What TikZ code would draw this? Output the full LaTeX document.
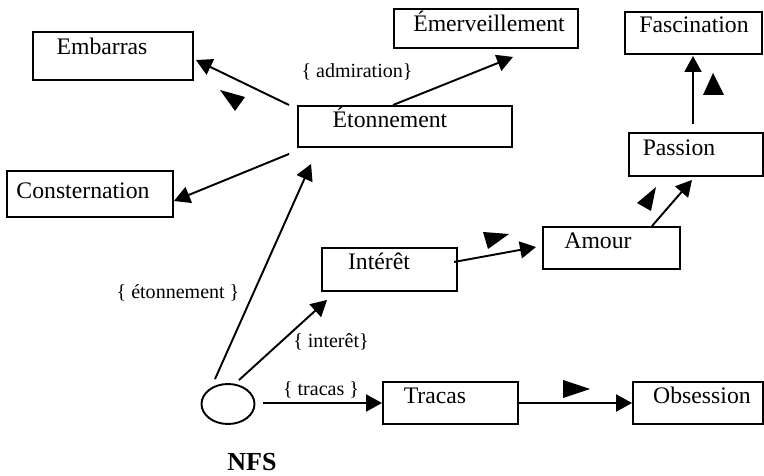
\documentclass[tikz,border=0pt]{standalone}
\usepackage{fontspec}
\setmainfont{Liberation Serif}
\usetikzlibrary{arrows.meta,calc,shapes}

\begin{document}
\begin{tikzpicture}[
  x=0.02cm, y=-0.02cm,
  emobox/.style={draw, line width=1.1pt, inner sep=0pt},
  boxtext/.style={anchor=base, inner sep=0pt, font=\fontsize{13.5}{16}\selectfont},
  lbl/.style={anchor=base, inner sep=0pt, font=\fontsize{11.4}{14}\selectfont},
  edge/.style={line width=1.1pt, -{Triangle[length=0.32cm,width=0.34cm]}},
  flag/.style={fill=black}
]
\useasboundingbox (0,0) rectangle (764,476);

% Boxes of the emotions
\node[emobox, minimum width=3.2cm, minimum height=0.96cm] (emb) at (113,56) {};
\node[boxtext] (emb-t) at (102,55) {Embarras};
\node[emobox, minimum width=3.32cm, minimum height=0.92cm] (con) at (90,194) {};
\node[boxtext] (con-t) at (83,199) {Consternation};
\node[emobox, minimum width=4.28cm, minimum height=0.82cm] (eto) at (405,126.5) {};
\node[boxtext] (eto-t) at (390,128) {Étonnement};
\node[emobox, minimum width=3.68cm, minimum height=0.78cm] (eme) at (486,28.5) {};
\node[boxtext] (eme-t) at (489,32) {Émerveillement};
\node[emobox, minimum width=2.74cm, minimum height=0.84cm] (fas) at (693.5,33) {};
\node[boxtext] (fas-t) at (694,33) {Fascination};
\node[emobox, minimum width=2.68cm, minimum height=0.86cm] (pas) at (696,154.5) {};
\node[boxtext] (pas-t) at (679,156) {Passion};
\node[emobox, minimum width=2.74cm, minimum height=0.84cm] (amo) at (611.5,248) {};
\node[boxtext] (amo-t) at (598,249) {Amour};
\node[emobox, minimum width=2.7cm, minimum height=0.86cm] (int) at (389.5,269.5) {};
\node[boxtext] (int-t) at (379,270) {Intérêt};
\node[emobox, minimum width=2.7cm, minimum height=0.84cm] (tra) at (450.5,403) {};
\node[boxtext] (tra-t) at (435,403) {Tracas};
\node[emobox, minimum width=2.6cm, minimum height=0.84cm] (obs) at (698,403) {};
\node[boxtext] (obs-t) at (702,403) {Obsession};

% NFS
\node[emobox, ellipse, minimum width=1.06cm, minimum height=0.8cm] (nfs) at (228,404) {};
\node[anchor=base, inner sep=0pt, font=\fontsize{14.8}{17}\selectfont\bfseries] (nfs-t) at (252,470) {NFS};

% Connectors
\draw[edge] ($(eto.north west)+(-8,0)$) -- ($(emb.east)+(2,4)$);
\draw[edge] ($(eto.south west)+(-8,6)$) -- ($(con.east)+(0,7)$);
\draw[edge] ($(nfs.north)+(-13,-4)$) -- ($(eto.south west)+(14,16)$);
\draw[edge] ($(eto.north)+(-12,0)$) -- ($(eme.south)+(27,8)$);
\draw[edge] ($(pas.north)+(-3,-8)$) -- ($(fas.south)+(-0.5,1)$);
\draw[edge] ($(amo.north)+(40.5,0)$) -- ($(pas.south)+(-4,3)$);
\draw[edge] ($(int.east)+(-4,-7.5)$) -- ($(amo.west)+(-6,-1)$);
\draw[edge] ($(nfs.north)+(11,-3)$) -- ($(int.south west)+(6,8)$);
\draw[edge] ($(nfs.east)+(8,-1)$) -- (tra.west);
\draw[edge] ($(tra.east)+(-2,0)$) -- (obs.west);

% Labels
\node[lbl] (adm-l) at (357,78) {\{ admiration\}};
\node[lbl] (eto-l) at (178,298) {\{ étonnement \}};
\node[lbl] (int-l) at (331,347) {\{ interêt\}};
\node[lbl] (tra-l) at (321,395) {\{ tracas \}};

% Loose triangles
\fill[flag] (220,90) -- (245,97) -- (235,111) -- cycle;
\fill[flag] (713,73) -- (703,95) -- (724,95) -- cycle;
\fill[flag] (656,187) -- (637,203) -- (651,211) -- cycle;
\fill[flag] (483,232) -- (509,234) -- (488,249) -- cycle;
\fill[flag] (563,380) -- (590,389) -- (563,398) -- cycle;

\end{tikzpicture}
\end{document}
